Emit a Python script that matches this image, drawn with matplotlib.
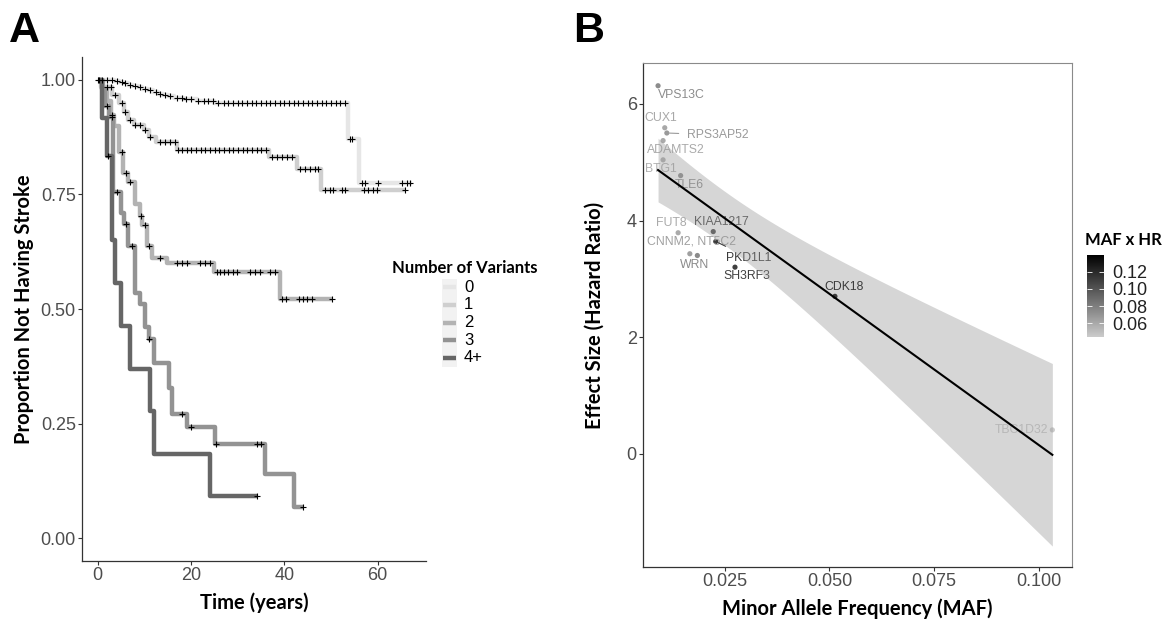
import numpy as np
import matplotlib.pyplot as plt
from matplotlib.colors import LinearSegmentedColormap, Normalize
from matplotlib.cm import ScalarMappable
from matplotlib.lines import Line2D
from matplotlib.patches import Rectangle

W, H = 1171, 620

# ---------------- panel A: Kaplan-Meier by number of variants ----------------
groups = ['0', '1', '2', '3', '4+']
group_cols = ['#e6e6e6', '#cfcfcf', '#b3b3b3', '#939393', '#666666']

t0 = [0, 3.5, 4.6, 5.5, 6.5, 7.5, 8.6, 9.6, 10.7, 11.8, 12.9, 14.0, 15.0, 16.3, 18.5, 21.3, 25.0, 53.7, 55.9]
s0 = [1.0, 0.998, 0.996, 0.993, 0.989, 0.987, 0.984, 0.980, 0.977, 0.973, 0.969, 0.967, 0.965, 0.960, 0.958, 0.954, 0.950, 0.871, 0.774]
end0 = 67.3
c0 = [0.0, 0.9, 2.0, 3.1, 4.1, 5.2, 5.9, 7.0, 8.1, 9.1, 10.2, 11.3, 12.4, 13.4, 14.5, 15.6, 17.0, 18.0,
      19.0, 20.0, 21.5, 22.7, 23.7, 24.7, 25.7, 27.0, 28.0, 29.0, 30.0, 31.0, 32.0, 33.0, 34.0, 35.0,
      36.0, 37.0, 38.0, 39.0, 40.0, 41.0, 42.0, 43.0, 44.0, 45.0, 46.0, 47.0, 48.0, 49.0, 50.0, 51.0,
      52.0, 53.0, 54.0, 54.6, 56.6, 57.3, 60.0, 65.2, 66.2, 67.0]

t1 = [0, 0.8, 3.0, 4.5, 5.6, 6.6, 7.7, 9.9, 10.9, 12.4, 17.1, 36.8, 42.7, 47.8]
s1 = [1.0, 0.985, 0.967, 0.949, 0.931, 0.913, 0.902, 0.891, 0.876, 0.865, 0.847, 0.831, 0.805, 0.760]
end1 = 65.9
c1 = [1.9, 2.9, 3.8, 5.2, 5.9, 7.0, 8.1, 9.1, 10.2, 11.3, 13.4, 14.5, 15.6, 16.6, 17.3, 18.1, 19.1,
      20.1, 21.1, 22.1, 23.1, 24.1, 25.1, 26.1, 27.1, 28.1, 29.1, 30.1, 31.1, 32.1, 33.1, 34.1, 35.1,
      36.1, 37.3, 38.4, 39.5, 40.6, 41.6, 43.4, 44.5, 45.6, 46.6, 47.3, 48.8, 49.7, 50.5, 52.3, 53.0,
      57.1, 58.0, 59.0, 59.8, 65.9]

t2 = [0, 1.2, 2.0, 2.8, 3.6, 4.6, 5.5, 6.6, 8.1, 9.0, 9.6, 10.6, 11.6, 14.9, 25.0, 39.0]
s2 = [1.0, 0.98, 0.955, 0.924, 0.90, 0.843, 0.796, 0.778, 0.730, 0.704, 0.683, 0.637, 0.612, 0.600, 0.580, 0.521]
end2 = 50.2
c2 = [3.1, 5.2, 6.1, 7.0, 9.3, 10.1, 10.9, 13.4, 17.0, 18.1, 19.1, 22.0, 23.1, 24.1, 25.5, 26.3, 27.1,
      28.0, 28.9, 29.8, 32.7, 33.8, 34.8, 37.0, 38.0, 39.4, 40.3, 43.1, 43.9, 44.8, 45.9, 50.2]

t3 = [0, 1.0, 1.6, 2.5, 3.3, 4.9, 5.7, 6.6, 8.1, 9.1, 10.2, 10.9, 12.0, 15.2, 15.9, 19.1, 25.2, 35.9, 42.1]
s3 = [1.0, 0.98, 0.942, 0.92, 0.756, 0.709, 0.685, 0.638, 0.536, 0.510, 0.460, 0.434, 0.382, 0.327, 0.271,
      0.243, 0.206, 0.139, 0.068]
end3 = 44.1
c3 = [2.1, 3.0, 4.2, 6.1, 7.3, 11.1, 18.1, 20.1, 25.4, 34.1, 35.0, 44.1]

t4 = [0, 0.9, 2.1, 3.1, 3.8, 5.0, 7.0, 11.2, 12.0, 24.1]
s4 = [1.0, 0.917, 0.834, 0.650, 0.557, 0.463, 0.369, 0.277, 0.184, 0.092]
end4 = 34.1
c4 = [0.3, 2.3, 34.1]

# ---------------- panel B: effect size vs MAF ----------------
genes = ['VPS13C', 'CUX1', 'RPS3AP52', 'ADAMTS2', 'BTG1', 'TLE6', 'FUT8', 'KIAA1217',
         'CNNM2, NT5C2', 'WRN', 'PKD1L1', 'SH3RF3', 'CDK18', 'TBC1D32']
maf = np.array([0.0090, 0.0106, 0.0111, 0.0102, 0.0102, 0.0144, 0.0138, 0.0222,
                0.0166, 0.0184, 0.0228, 0.0274, 0.0513, 0.1033])
hr = np.array([6.31, 5.59, 5.50, 5.37, 5.04, 4.77, 3.79, 3.81, 3.43, 3.40, 3.64, 3.20, 2.70, 0.41])
maf_hr = np.array([0.0735, 0.0603, 0.0669, 0.0594, 0.0566, 0.0721, 0.0594, 0.1048,
                   0.0641, 0.0745, 0.1123, 0.1095, 0.1397, 0.0438])
# label offsets in pixels (right, down) and whether ggrepel drew a segment
lab_dx = [23, -4, 51, 13, -2, 9, -7, 8, 2, -3, 33, 12, 9, -31]
lab_dy = [9, -10, 2, 9, 9, 9, -10, -10, -12, 9, 16, 9, -9, 0]
lab_seg = [False, False, True, False, False, False, False, False, False, False, True, False, False, False]

tick_font = 'Liberation Sans'
title_font = 'Lato'
tick_col = '#4d4d4d'
axis_col = '#333333'

fig = plt.figure(figsize=(W / 100, H / 100), dpi=100)


def fx(px):
    return px / W


def fy(py):
    return 1 - py / H


# ---- A ----
axA = fig.add_axes([fx(82), fy(561), fx(344), 504 / H])
km = [(t0, s0, end0, c0), (t1, s1, end1, c1), (t2, s2, end2, c2), (t3, s3, end3, c3), (t4, s4, end4, c4)]
for (tt, ss, te, cc), col in zip(km, group_cols):
    xs = list(tt) + [te]
    ys = list(ss) + [ss[-1]]
    axA.step(xs, ys, where='post', color=col, lw=3.2, solid_capstyle='butt', zorder=2)
for (tt, ss, te, cc), col in zip(km, group_cols):
    idx = np.searchsorted(tt, cc, side='right') - 1
    axA.plot(cc, np.array(ss)[idx], ls='none', marker='+', ms=4.5, mew=0.8, color='black', zorder=3)

axA.set_xlim(-3.35, 70.35)
axA.set_ylim(-0.05, 1.05)
axA.set_xticks([0, 20, 40, 60])
axA.set_yticks([0, 0.25, 0.5, 0.75, 1.0])
axA.set_yticklabels(['0.00', '0.25', '0.50', '0.75', '1.00'])
axA.set_xlabel('Time (years)', fontsize=14.5, fontweight='bold', family=title_font, labelpad=6)
axA.set_ylabel('Proportion Not Having Stroke', fontsize=14.5, fontweight='bold', family=title_font)
axA.yaxis.set_label_coords(-0.14, 0.5)
for sp in ['top', 'right']:
    axA.spines[sp].set_visible(False)

# legend of panel A
fig.text(fx(465), fy(268), 'Number of Variants', fontsize=12, fontweight='bold', family=title_font,
         ha='center', va='center')
fig.add_artist(Rectangle((fx(441.5), fy(367)), fx(15.5), 88 / H, transform=fig.transFigure,
                         color='#f2f2f2', lw=0, zorder=0))
for i, (g, col) in enumerate(zip(groups, group_cols)):
    yy = 287 + i * 17.75
    fig.add_artist(Line2D([fx(443), fx(456)], [fy(yy), fy(yy)], transform=fig.transFigure,
                          color=col, lw=3.2, solid_capstyle='butt'))
    fig.text(fx(464), fy(yy), g, fontsize=12, family=tick_font, color='black', va='center', ha='left')

# ---- B ----
axB = fig.add_axes([fx(643), fy(567), fx(429), 504 / H])
cmap = LinearSegmentedColormap.from_list('mafhr', ['#cbcbcb', '#000000'])
norm = Normalize(vmin=maf_hr.min(), vmax=maf_hr.max())
pt_cols = cmap(norm(maf_hr))

axB.scatter(maf, hr, s=14, c=pt_cols, lw=0, zorder=2)
for g, x, y, dx, dy, seg, col in zip(genes, maf, hr, lab_dx, lab_dy, lab_seg, pt_cols):
    props = dict(arrowstyle='-', color=col, lw=0.8, shrinkA=4, shrinkB=2) if seg else None
    axB.annotate(g, (x, y), xytext=(dx, -dy), textcoords='offset pixels', ha='center', va='center',
                 fontsize=8.8, family=tick_font, color=col, arrowprops=props, zorder=2)

# linear fit with 95% band
n = len(maf)
b1, b0 = np.polyfit(maf, hr, 1)
xfit = np.linspace(maf.min(), maf.max(), 100)
yfit = b0 + b1 * xfit
resid = hr - (b0 + b1 * maf)
s_err = np.sqrt(np.sum(resid ** 2) / (n - 2))
sxx = np.sum((maf - maf.mean()) ** 2)
se = s_err * np.sqrt(1 / n + (xfit - maf.mean()) ** 2 / sxx)
t975 = 2.179  # t quantile, 12 df
axB.fill_between(xfit, yfit - t975 * se, yfit + t975 * se, color='#999999', alpha=0.4, lw=0, zorder=3)
axB.plot(xfit, yfit, color='black', lw=1.5, zorder=4)

axB.set_xlim(0.0054, 0.1080)
axB.set_ylim(-1.94, 6.70)
axB.set_xticks([0.025, 0.05, 0.075, 0.1])
axB.set_xticklabels(['0.025', '0.050', '0.075', '0.100'])
axB.set_yticks([0, 2, 4, 6])
axB.set_xlabel('Minor Allele Frequency (MAF)', fontsize=14.5, fontweight='bold', family=title_font, labelpad=6)
axB.set_ylabel('Effect Size (Hazard Ratio)', fontsize=14.5, fontweight='bold', family=title_font)
axB.yaxis.set_label_coords(-0.089, 0.5)
for sp in ['top', 'right']:
    axB.spines[sp].set_color('#8a8a8a')

for ax in (axA, axB):
    for sp in ['left', 'bottom']:
        ax.spines[sp].set_color(axis_col)
        ax.spines[sp].set_linewidth(0.9)
    ax.tick_params(length=3, width=0.8, color=axis_col, labelcolor=tick_col, labelsize=13, pad=1.5)
    for lab in ax.get_xticklabels() + ax.get_yticklabels():
        lab.set_family(tick_font)

# colorbar
cax = fig.add_axes([fx(1087), fy(337), fx(17), 82 / H])
cb = fig.colorbar(ScalarMappable(norm=norm, cmap=cmap), cax=cax, ticks=[0.06, 0.08, 0.10, 0.12])
cb.outline.set_visible(False)
cb.ax.set_yticklabels(['0.06', '0.08', '0.10', '0.12'])
cax.tick_params(direction='in', length=3.5, width=0.6, color='white', labelcolor='#222222',
                labelsize=13, pad=6, left=True)
for lab in cax.get_yticklabels():
    lab.set_family(tick_font)
fig.text(fx(1085), fy(240), 'MAF x HR', fontsize=12, fontweight='bold', family=title_font,
         ha='left', va='center')

# panel letters
fig.text(fx(9), fy(42), 'A', fontsize=31, fontweight='bold', family=tick_font, va='baseline')
fig.text(fx(573), fy(42), 'B', fontsize=31, fontweight='bold', family=tick_font, va='baseline')

fig.savefig('out.png', dpi=100)
